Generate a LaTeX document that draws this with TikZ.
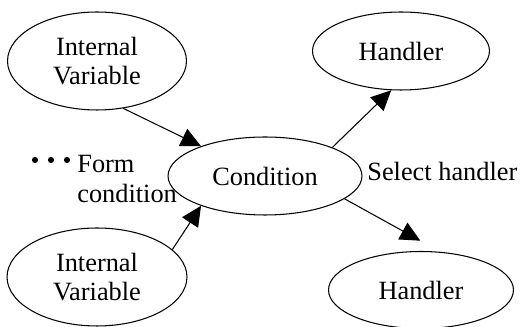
\documentclass[tikz,border=0pt]{standalone}
\usepackage{fontspec}
\setmainfont{Liberation Serif}
\usetikzlibrary{arrows.meta,shapes.geometric}

\begin{document}
\begin{tikzpicture}[x=0.02cm, y=-0.02cm,
		every node/.style={font=\fontsize{15}{17}\selectfont},
		oval/.style={draw, ellipse, line width=0.6pt, inner sep=0pt, align=center},
		arr/.style={line width=0.6pt, -{Triangle[length=0.4cm,width=0.38cm]}}]
		\useasboundingbox (0,0) rectangle (522,327);

		\node[oval, minimum width=3.58cm, minimum height=1.96cm] (iva) at (97,61) {Internal\\Variable};
		\node[oval, minimum width=3.6cm, minimum height=1.96cm] (ivb) at (97,277) {Internal\\Variable};
		\node[oval, minimum width=3.88cm, minimum height=1.56cm] (cond) at (265,176) {Condition};
		\node[oval, minimum width=3.54cm, minimum height=1.56cm] (hdla) at (401,51) {Handler};
		\node[oval, minimum width=3.7cm, minimum height=1.54cm] (hdlb) at (421,290) {Handler};

		\foreach \x in {35,51,67}{
			\fill (\x,160) circle (3.1);
		}
		\node[anchor=west, align=left, inner sep=0pt] (form) at (77,179) {Form\\condition};
		\node[anchor=west, inner sep=0pt] (sel) at (367,171) {Select handler};

		\draw[arr] (iva.-61) -- (cond.155);
		\draw[arr] (ivb.20) -- (cond.205);
		\draw[arr] (cond.23) -- (hdla.256);
		\draw[arr, shorten >=0.46cm] (cond.-16) -- (hdlb.63);
	\end{tikzpicture}
\end{document}
